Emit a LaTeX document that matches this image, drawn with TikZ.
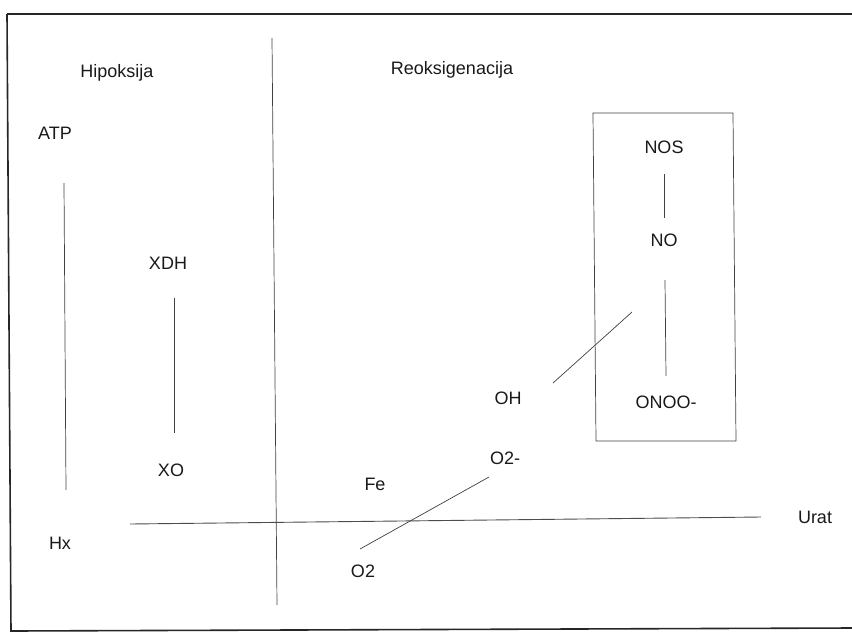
\documentclass[tikz,border=0pt]{standalone}
\usepackage{fontspec}
\setmainfont{Liberation Sans}
\begin{document}
\begin{tikzpicture}[x=1pt,y=-1pt,
  lbl/.style={inner sep=0pt, font=\fontsize{18}{20}\selectfont, text=black!90},
  ln/.style={draw=black!75, line width=0.7pt},
  frame/.style={draw=black!85, line width=1.6pt}]
\useasboundingbox (0,0) rectangle (852,633);
% outer frame
\coordinate (fTL) at (7,14);
\coordinate (fTR) at (852,14);
\coordinate (fBL) at (11,631);
\coordinate (fBR) at (852,628);
\draw[frame] (fTL) -- (fTR);
\draw[frame] (fTL) -- (fBL) -- (fBR);
% labels
\node[lbl] (hip) at (117,73) {Hipoksija};
\node[lbl] (reo) at (452,70) {Reoksigenacija};
\node[lbl] (atp) at (55,133) {ATP};
\node[lbl] (hx) at (60,543) {Hx};
\node[lbl] (xdh) at (168,263) {XDH};
\node[lbl] (xo) at (171,470) {XO};
\node[lbl] (fe) at (375,484) {Fe};
\node[lbl] (o2m) at (505,458) {O2-};
\node[lbl] (o2) at (363,571) {O2};
\node[lbl] (oh) at (508,398) {OH};
\node[lbl] (urat) at (815,517) {Urat};
\node[lbl] (nos) at (664,147) {NOS};
\node[lbl] (no) at (664,240) {NO};
\node[lbl] (onoo) at (666,402) {ONOO-};
% box
\coordinate (bTL) at (593,113);
\coordinate (bTR) at (733,113);
\coordinate (bBR) at (736,441);
\coordinate (bBL) at (596,441);
\draw[ln] (bTL) -- (bTR) -- (bBR) -- (bBL) -- cycle;
% coordinates for line ends
\coordinate (divT) at (272,38);
\coordinate (divB) at (277,605);
\coordinate (hL) at (130,524);
\coordinate (hR) at (761,517);
\coordinate (atpA) at (64,183);
\coordinate (atpB) at (66,490);
\coordinate (xdhA) at (174,298);
\coordinate (xdhB) at (174,433);
\coordinate (nosA) at (664,174);
\coordinate (nosB) at (664,218);
\coordinate (noA) at (665,280);
\coordinate (noB) at (666,376);
\coordinate (ohA) at (553,383);
\coordinate (ohB) at (632,312);
\coordinate (o2A) at (360,549);
\coordinate (o2B) at (489,477);
% lines
\draw[ln] (divT) -- (divB);
\draw[ln, draw=black!70, line width=0.9pt] (hL) -- (hR);
\draw[ln] (atpA) -- (atpB);
\draw[ln] (xdhA) -- (xdhB);
\draw[ln] (nosA) -- (nosB);
\draw[ln] (noA) -- (noB);
\draw[ln] (ohA) -- (ohB);
\draw[ln] (o2A) -- (o2B);
\end{tikzpicture}
\end{document}
